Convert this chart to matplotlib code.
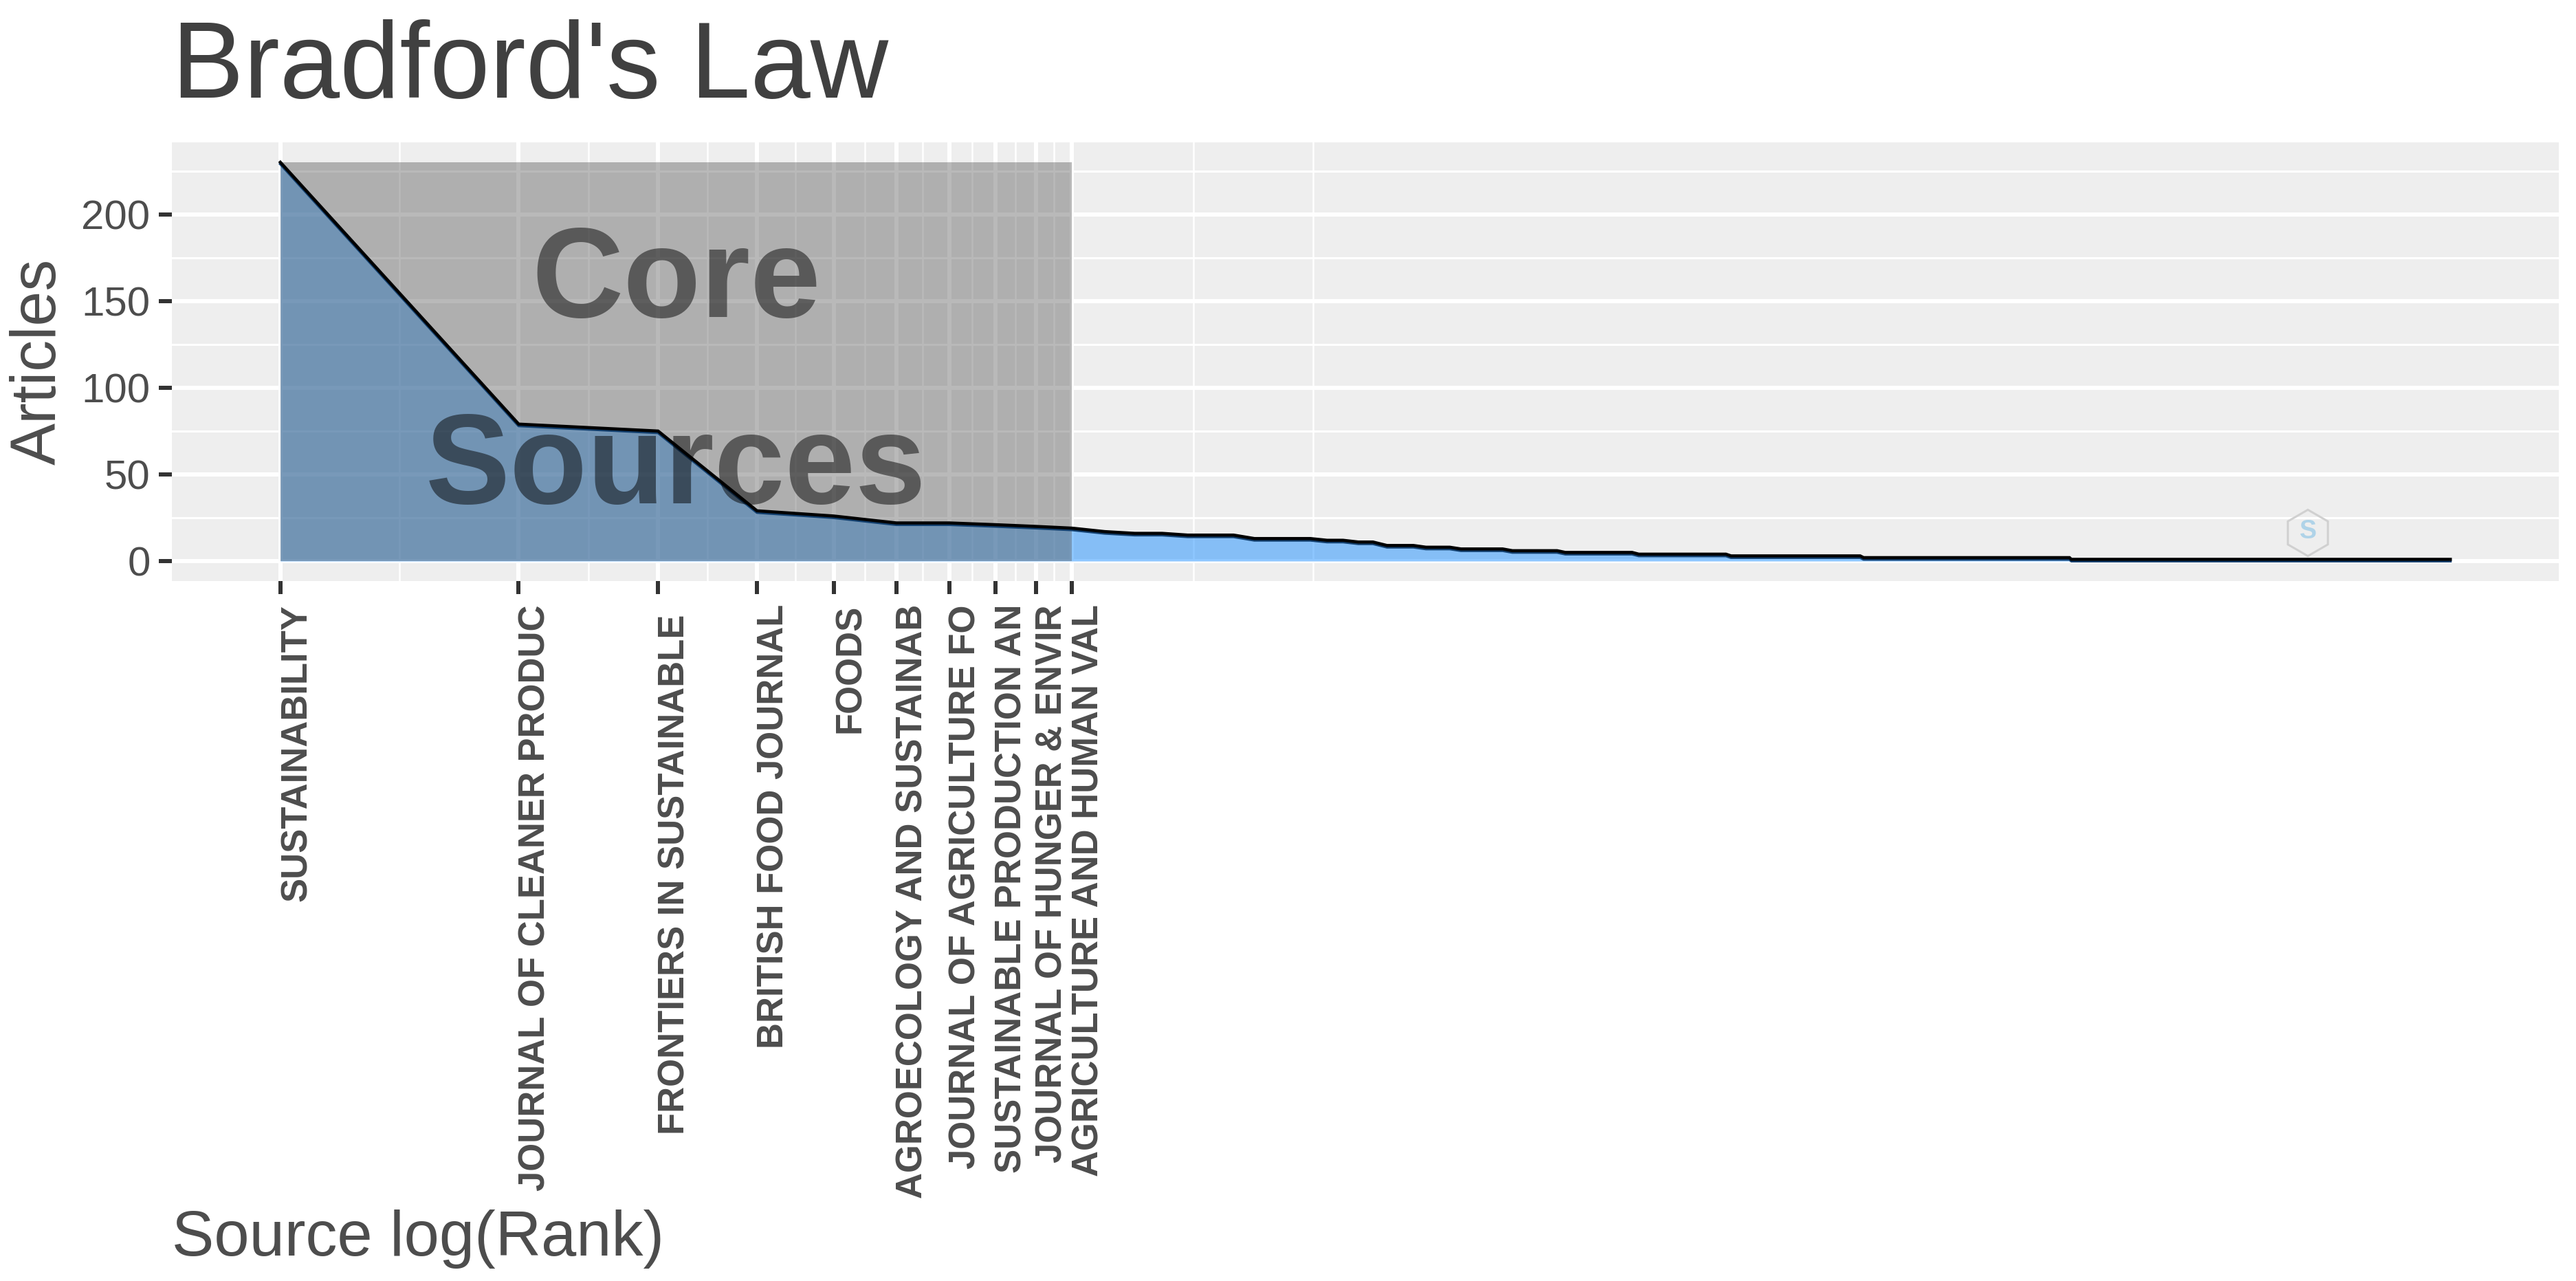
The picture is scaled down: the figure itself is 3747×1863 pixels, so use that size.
import matplotlib
matplotlib.use('Agg')
import matplotlib.pyplot as plt
from matplotlib.patches import Rectangle, RegularPolygon
from matplotlib.transforms import offset_copy
import numpy as np

# articles per source, top ten read one by one, the long tail as runs
head_articles = [230, 79, 75, 29, 26, 22, 22, 21, 20, 19]
tail_articles = [17, 16, 15, 13, 12, 11, 9, 8, 7, 6, 5, 4, 3, 2, 1]
tail_last_rank = [11, 13, 16, 20, 22, 24, 27, 30, 35, 41, 51, 67, 99, 182, 551]

source_labels = ['SUSTAINABILITY', 'JOURNAL OF CLEANER PRODUC', 'FRONTIERS IN SUSTAINABLE ',
                 'BRITISH FOOD JOURNAL', 'FOODS', 'AGROECOLOGY AND SUSTAINAB',
                 'JOURNAL OF AGRICULTURE FO', 'SUSTAINABLE PRODUCTION AN',
                 'JOURNAL OF HUNGER & ENVIR', 'AGRICULTURE AND HUMAN VAL']
y_major = [0, 50, 100, 150, 200]
y_minor = [25, 75, 125, 175, 225]
x_minor_extra = [2.655, 3.004]

articles = list(head_articles)
for level, last in zip(tail_articles, tail_last_rank):
    articles += [level] * (last - len(articles))
articles = np.array(articles)
log_rank = np.log(np.arange(1, len(articles) + 1))
log_core = log_rank[:len(source_labels)]

W, H = 3747, 1863
DPI = 300
px = 72 / DPI  # one image pixel in points

plt.rcParams['font.family'] = ['Liberation Sans', 'DejaVu Sans']

fig = plt.figure(figsize=(W / DPI, H / DPI), dpi=DPI, facecolor='white')
ax = fig.add_axes([250 / W, 1 - 845 / H, (3722 - 250) / W, (845 - 207) / H])
ax.set_facecolor('#EEEEEE')
for s in ax.spines.values():
    s.set_visible(False)

ax.set_xlim(-0.05 * log_rank[-1], 1.05 * log_rank[-1])
ax.set_ylim(-0.05 * articles.max(), 1.05 * articles.max())

# grid
ax.set_axisbelow(True)
x_minor = list((log_core[:-1] + log_core[1:]) / 2) + x_minor_extra
for v in y_major:
    ax.axhline(v, color='white', lw=6 * px, zorder=1)
for v in y_minor:
    ax.axhline(v, color='white', lw=3 * px, zorder=1)
for v in log_core:
    ax.axvline(v, color='white', lw=6 * px, zorder=1)
for v in x_minor:
    ax.axvline(v, color='white', lw=2.5 * px, zorder=1)

# area, core rectangle, line with the dark blue edge under it
ax.fill_between(log_rank, 0, articles, color='dodgerblue', alpha=0.5, lw=0, zorder=2)
ax.add_patch(Rectangle((0, 0), log_core[-1], articles.max(), facecolor='#5A5A5A',
                       alpha=0.42, lw=0, zorder=3))
shifted = offset_copy(ax.transData, fig=fig, y=-2.5 * px, units='points')
ax.plot(log_rank, articles, color='#123F6E', lw=4 * px, zorder=4, transform=shifted)
ax.plot(log_rank, articles, color='black', lw=4.5 * px, zorder=4, solid_joinstyle='miter')

ax.text(log_core[-1] / 2, 160, 'Core', fontsize=44.3, fontweight='bold', color='black',
        alpha=0.49, ha='center', va='center', zorder=5)
ax.text(log_core[-1] / 2, 52.5, 'Sources', fontsize=44.3, fontweight='bold', color='black',
        alpha=0.49, ha='center', va='center', zorder=5)

# ticks
ax.set_yticks(y_major)
ax.set_xticks(log_core)
ax.set_xticklabels([])
ax.tick_params(axis='both', length=19 * px, width=6 * px, color='#333333')
ax.tick_params(axis='y', labelsize=14.4, labelcolor='#4D4D4D', pad=3)

for x, label in zip(log_core, source_labels):
    ax.annotate(label, xy=(x, 0), xycoords=('data', 'axes fraction'),
                xytext=(-1 * px, -34 * px), textcoords='offset points',
                rotation=90, ha='left', va='top', fontsize=12.65, fontweight='bold',
                color='#4D4D4D')

# titles
fig.text(250 / W, 1 - 142 / H, "Bradford's Law", fontsize=37.7, color='#404040',
         ha='left', va='baseline')
fig.text(57 / W, 1 - 526 / H, 'Articles', fontsize=22, color='#4D4D4D',
         rotation=90, ha='center', va='center')
fig.text(250 / W, 1 - 1826 / H, 'Source log(Rank)', fontsize=22.1, color='#4D4D4D',
         ha='left', va='baseline')

# small hexagon logo
logo = fig.add_axes([(3357 - 37) / W, 1 - (775 + 37) / H, 74 / W, 74 / H])
logo.set_xlim(-1.1, 1.1)
logo.set_ylim(-1.1, 1.1)
logo.axis('off')
logo.add_patch(RegularPolygon((0, 0), 6, radius=1, facecolor='none', edgecolor='#D0D0D0', lw=3 * px))
logo.text(0, 0.05, 'S', fontsize=9, fontweight='bold', color='#AFD3E8', ha='center', va='center')

fig.savefig('out.png', dpi=DPI, facecolor='white')
plt.close(fig)
